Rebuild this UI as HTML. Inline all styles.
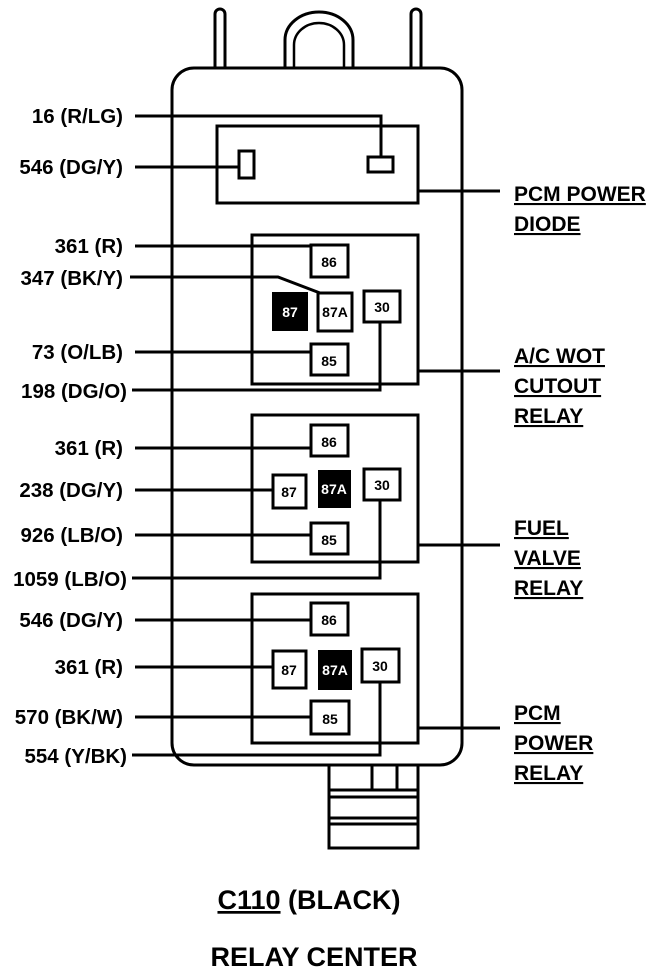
<!DOCTYPE html>
<html><head><style>
html,body{margin:0;padding:0;background:#fff;}
svg text{font-family:"Liberation Sans",Arial,sans-serif;font-weight:bold;}
</style></head><body>
<svg width="672" height="972" viewBox="0 0 672 972" xmlns="http://www.w3.org/2000/svg">
<g fill="none" stroke="#000" stroke-width="3">
<path d="M215,68 V14 a5,5 0 0 1 10,0 V68"/>
<path d="M411,68 V14 a5,5 0 0 1 10,0 V68"/>
<path d="M285,68 V40 a34,28 0 0 1 68,0 V68"/>
<path d="M294,68 V45 a25,22 0 0 1 50,0 V68" stroke-width="2.5"/>
<rect x="172" y="68" width="290" height="697" rx="22"/>
<rect x="217" y="126" width="201" height="77"/>
<rect x="239" y="151" width="15" height="27" stroke-width="3"/>
<rect x="368" y="157" width="25" height="15"/>
<path d="M135,116 H381 V157"/>
<path d="M135,167 H239"/>
<path d="M418,191 H500"/>
<rect x="252" y="235" width="166" height="149"/>
<rect x="311" y="245" width="37" height="32"/>
<rect x="318" y="293" width="34" height="38"/>
<rect x="364" y="291" width="36" height="31"/>
<rect x="311" y="344" width="37" height="31"/>
<path d="M135,246 H311"/>
<path d="M130,277 H278 L320,293"/>
<path d="M135,352 H311"/>
<path d="M132,390 H380 V322"/>
<path d="M418,371 H500"/>
<rect x="252" y="415" width="166" height="147"/>
<rect x="311" y="425" width="37" height="31"/>
<rect x="273" y="475" width="33" height="33"/>
<rect x="364" y="469" width="36" height="31"/>
<rect x="311" y="523" width="37" height="31"/>
<path d="M135,448 H311"/>
<path d="M135,490 H273"/>
<path d="M135,535 H311"/>
<path d="M132,578 H380 V500"/>
<path d="M418,545 H500"/>
<rect x="252" y="594" width="166" height="149"/>
<rect x="311" y="603" width="37" height="32"/>
<rect x="273" y="651" width="33" height="37"/>
<rect x="362" y="649" width="37" height="33"/>
<rect x="311" y="701" width="38" height="33"/>
<path d="M135,620 H311"/>
<path d="M135,667 H273"/>
<path d="M135,717 H311"/>
<path d="M132,755 H380 V682"/>
<path d="M418,728 H500"/>
<path d="M329,765 V848 H418 V765"/>
<path d="M372,765 V790 M397,765 V790"/>
<path d="M329,790 H418 M329,797 H418 M329,818 H418 M329,824 H418"/>
</g>
<rect x="272" y="292" width="36" height="39" fill="#000"/>
<rect x="318" y="470" width="33" height="38" fill="#000"/>
<rect x="318" y="650" width="34" height="40" fill="#000"/>
<g font-size="14" text-anchor="middle">
<text x="329" y="267">86</text>
<text x="290" y="317" fill="#fff" font-weight="normal">87</text>
<text x="335" y="317">87A</text>
<text x="382" y="312">30</text>
<text x="329" y="366">85</text>
<text x="329" y="447">86</text>
<text x="289" y="497">87</text>
<text x="334" y="494" fill="#fff" font-weight="normal">87A</text>
<text x="382" y="490">30</text>
<text x="329" y="545">85</text>
<text x="329" y="625">86</text>
<text x="289" y="675">87</text>
<text x="335" y="675" fill="#fff" font-weight="normal">87A</text>
<text x="380" y="671">30</text>
<text x="330" y="724">85</text>
</g>
<g font-size="20.5" text-anchor="end">
<text x="123" y="123">16 (R/LG)</text>
<text x="123" y="174">546 (DG/Y)</text>
<text x="123" y="253">361 (R)</text>
<text x="123" y="285">347 (BK/Y)</text>
<text x="123" y="359">73 (O/LB)</text>
<text x="127" y="398">198 (DG/O)</text>
<text x="123" y="455">361 (R)</text>
<text x="123" y="497">238 (DG/Y)</text>
<text x="123" y="542">926 (LB/O)</text>
<text x="127" y="586">1059 (LB/O)</text>
<text x="123" y="627">546 (DG/Y)</text>
<text x="123" y="674">361 (R)</text>
<text x="123" y="724">570 (BK/W)</text>
<text x="127" y="763">554 (Y/BK)</text>
</g>
<g font-size="21" text-decoration="underline">
<text x="514" y="201">PCM POWER</text>
<text x="514" y="231">DIODE</text>
<text x="514" y="363">A/C WOT</text>
<text x="514" y="393">CUTOUT</text>
<text x="514" y="423">RELAY</text>
<text x="514" y="535">FUEL</text>
<text x="514" y="565">VALVE</text>
<text x="514" y="595">RELAY</text>
<text x="514" y="720">PCM</text>
<text x="514" y="750">POWER</text>
<text x="514" y="780">RELAY</text>
</g>
<g font-size="27" text-anchor="middle">
<text x="309" y="909"><tspan text-decoration="underline">C110</tspan> (BLACK)</text>
<text x="314" y="966">RELAY CENTER</text>
</g>
</svg>
</body></html>
